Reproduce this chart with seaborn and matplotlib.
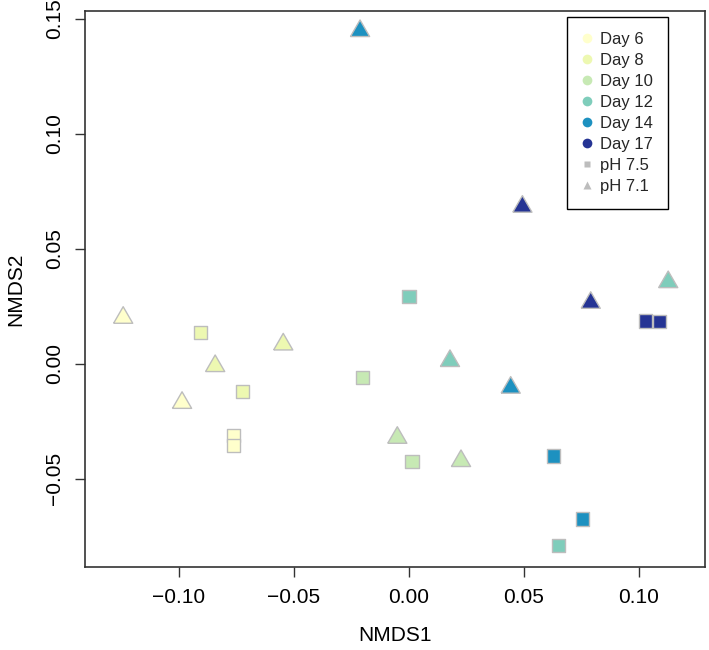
import numpy as np
import pandas as pd
import seaborn as sns
import matplotlib.pyplot as plt
from matplotlib.lines import Line2D

day = ['Day 6', 'Day 6', 'Day 6', 'Day 6',
       'Day 8', 'Day 8', 'Day 8', 'Day 8',
       'Day 10', 'Day 10', 'Day 10', 'Day 10',
       'Day 12', 'Day 12', 'Day 12', 'Day 12',
       'Day 14', 'Day 14', 'Day 14', 'Day 14',
       'Day 17', 'Day 17', 'Day 17', 'Day 17']
ph = ['pH 7.1', 'pH 7.1', 'pH 7.5', 'pH 7.5',
      'pH 7.5', 'pH 7.5', 'pH 7.1', 'pH 7.1',
      'pH 7.1', 'pH 7.5', 'pH 7.1', 'pH 7.5',
      'pH 7.5', 'pH 7.1', 'pH 7.1', 'pH 7.5',
      'pH 7.1', 'pH 7.1', 'pH 7.5', 'pH 7.5',
      'pH 7.1', 'pH 7.1', 'pH 7.5', 'pH 7.5']
nmds1 = [-0.1243, -0.0987, -0.0764, -0.0764,
         -0.0906, -0.0725, -0.0843, -0.0547,
         -0.0051, 0.0013, 0.0226, -0.0203,
         0.0000, 0.0178, 0.1127, 0.0651,
         -0.0213, 0.0442, 0.0627, 0.0754,
         0.0493, 0.0790, 0.1029, 0.1090]
nmds2 = [0.0213, -0.0157, -0.0312, -0.0355,
         0.0138, -0.0120, 0.0003, 0.0097,
         -0.0309, -0.0425, -0.0410, -0.0058,
         0.0293, 0.0025, 0.0368, -0.0791,
         0.1460, -0.0091, -0.0400, -0.0674,
         0.0696, 0.0278, 0.0187, 0.0183]

day_levels = ['Day 6', 'Day 8', 'Day 10', 'Day 12', 'Day 14', 'Day 17']
day_colors = ['#FFFFCC', '#EDF8B1', '#C7E9B4', '#7FCDBB', '#1D91C0', '#253494']
ph_levels = ['pH 7.5', 'pH 7.1']

df = pd.DataFrame({'NMDS1': nmds1, 'NMDS2': nmds2, 'Day': day, 'pH': ph})

# equilateral-ish triangle, like R's pch 24
tri = [(-1, -0.866), (1, -0.866), (0, 0.866), (-1, -0.866)]

sns.set_style('ticks')
plt.rcParams['font.family'] = ['Liberation Sans', 'DejaVu Sans']

fig = plt.figure(figsize=(7.09, 6.5), dpi=100)
ax = fig.add_axes([85 / 709, 1 - 567 / 650, 620 / 709, 556 / 650])

sns.scatterplot(data=df, x='NMDS1', y='NMDS2', hue='Day', hue_order=day_levels,
                palette=day_colors, style='pH', style_order=ph_levels,
                markers={'pH 7.5': 's', 'pH 7.1': tri},
                size='pH', sizes={'pH 7.5': 90, 'pH 7.1': 190},
                edgecolor='#bdbdbd', linewidth=1, legend=False, ax=ax, zorder=3)

ax.set_xlim(-0.1409, 0.1287)
ax.set_ylim(-0.0883, 0.1535)
ax.set_xticks([-0.10, -0.05, 0.00, 0.05, 0.10])
ax.set_yticks([-0.05, 0.00, 0.05, 0.10, 0.15])
ax.set_xticklabels(['\u22120.10', '\u22120.05', '0.00', '0.05', '0.10'])
ax.set_yticklabels(['\u22120.05', '0.00', '0.05', '0.10', '0.15'], rotation=90, va='center')
ax.tick_params(direction='out', length=7, width=1, labelsize=15, pad=8,
               colors='#333333', labelcolor='black')
for sp in ax.spines.values():
    sp.set_visible(True)
    sp.set_linewidth(1.2)
    sp.set_color('#333333')
ax.set_xlabel('NMDS1', fontsize=15, labelpad=14, color='black')
ax.set_ylabel('NMDS2', fontsize=15, labelpad=14, color='black')

handles = [Line2D([], [], marker='o', linestyle='', markersize=7,
                  markerfacecolor=c, markeredgecolor='none') for c in day_colors]
handles.append(Line2D([], [], marker='s', linestyle='', markersize=5,
                      markerfacecolor='#bdbdbd', markeredgecolor='none'))
handles.append(Line2D([], [], marker='^', linestyle='', markersize=6,
                      markerfacecolor='#bdbdbd', markeredgecolor='none'))
leg = ax.legend(handles, day_levels + ph_levels, loc='upper right',
                bbox_to_anchor=(0.940, 0.989), borderaxespad=0,
                fontsize=12, frameon=True, fancybox=False, framealpha=1,
                edgecolor='black', handletextpad=0.45, labelspacing=0.36,
                borderpad=0.9, handlelength=0.6)
leg.get_frame().set_linewidth(1)

fig.savefig('out.png', dpi=100)
